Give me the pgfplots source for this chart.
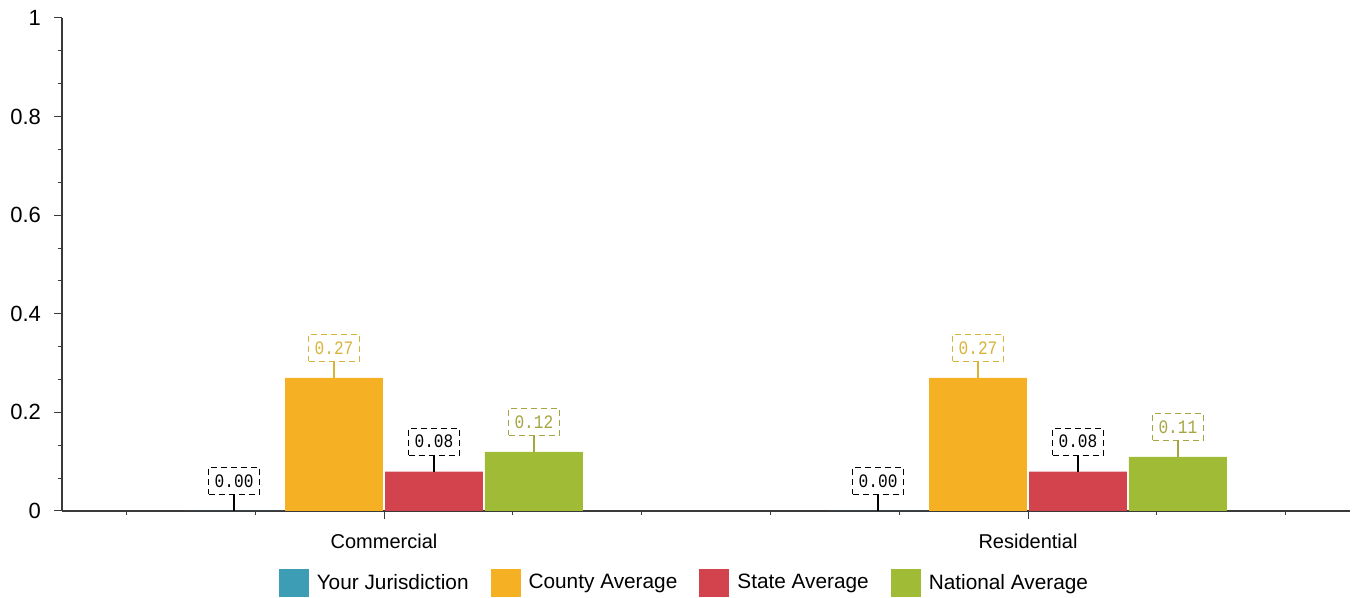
\documentclass[border=0pt]{standalone}
\usepackage{fontspec}
\setmainfont{Liberation Sans}
\newfontfamily\labelfont[FakeStretch=0.85]{Liberation Mono}
\usepackage{pgfplots}
\usepackage{pgfplotstable}
\pgfplotsset{compat=1.18}

\definecolor{jurisd}{HTML}{3C9DB4}
\definecolor{county}{HTML}{F5B024}
\definecolor{state}{HTML}{D2434E}
\definecolor{national}{HTML}{A0BC36}
\definecolor{countytxt}{HTML}{D9B43A}
\definecolor{nattxt}{HTML}{A5A541}
\definecolor{axisline}{HTML}{3A3A3A}

% category position, then one column per series
\pgfplotstableread{
x   jur  cty  sta  nat
2.5 0.00 0.27 0.08 0.12
7.5 0.00 0.27 0.08 0.11
}\datatable

\pgfplotsset{
  valbox/.style={
    nodes near coords={\pgfmathprintnumber[fixed,fixed zerofill,precision=2]{\pgfplotspointmeta}},
    nodes near coords align={anchor=south},
    every node near coord/.append style={
      draw=#1, text=#1, densely dashed, fill=white, line width=0.5pt,
      font={\labelfont\fontsize{9.5}{11}\selectfont},
      inner xsep=3pt, inner ysep=3.5pt, anchor=south, yshift=8pt,
      append after command={(\tikzlastnode.south) edge[draw=#1, solid, line width=0.6pt] ++(0,-8pt)}
    },
  },
  sqlegend/.style={
    legend image code/.code={\fill[##1] (0pt,-7pt) rectangle (15pt,7pt);}
  },
}

\begin{document}
\begin{tikzpicture}
\begin{axis}[
  at={(31pt,43.5pt)}, anchor=south west,
  scale only axis, width=644pt, height=246.5pt,
  xmin=0, xmax=10, ymin=0, ymax=1,
  axis x line*=bottom, axis y line*=left,
  axis line style={axisline, line width=0.6pt},
  tick style={axisline, line width=0.5pt},
  tick align=outside,
  ytick={0,0.2,0.4,0.6,0.8,1},
  minor y tick num=2,
  major tick length=4pt, minor tick length=2pt,
  xtick={2.5,7.5}, xticklabels={Commercial,Residential},
  minor xtick={0.5,1.5,3.5,4.5,5.5,6.5,8.5,9.5},
  xticklabel style={font=\fontsize{10}{12}\selectfont, yshift=-4pt},
  yticklabel style={font=\fontsize{11}{13}\selectfont, xshift=-3pt},
  /pgf/number format/assume math mode=true,
  ybar, bar width=0.76,
  legend columns=4,
  legend style={at={(0.484,-0.146)}, anchor=center, draw=none,
    font=\fontsize{10.4}{12}\selectfont,
    /tikz/every odd column/.append style={column sep=2pt},
    /tikz/every even column/.append style={column sep=9pt}},
  legend cell align=left,
  clip=false,
]
\addplot[fill=jurisd, draw=none, bar shift=-1.164, sqlegend, valbox=black]
  table[x=x, y=jur] {\datatable};
\addlegendentry{Your Jurisdiction}
\addplot[fill=county, draw=none, bar shift=-0.388, sqlegend, valbox=countytxt]
  table[x=x, y=cty] {\datatable};
\addlegendentry{County Average}
\addplot[fill=state, draw=none, bar shift=0.388, sqlegend, valbox=black]
  table[x=x, y=sta] {\datatable};
\addlegendentry{State Average}
\addplot[fill=national, draw=none, bar shift=1.164, sqlegend, valbox=nattxt]
  table[x=x, y=nat] {\datatable};
\addlegendentry{National Average}
\end{axis}
\pgfresetboundingbox
\path[use as bounding box] (0,0) rectangle (678.5pt,299pt);
\end{tikzpicture}
\end{document}
